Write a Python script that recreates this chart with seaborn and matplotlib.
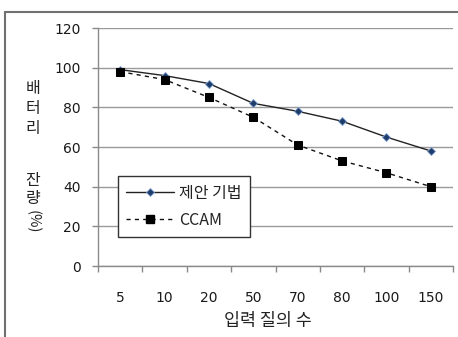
import matplotlib
matplotlib.use("Agg")
import matplotlib.pyplot as plt
import seaborn as sns
import pandas as pd
from matplotlib.lines import Line2D

categories = ["5", "10", "20", "50", "70", "80", "100", "150"]
proposed = [99, 96, 92, 82, 78, 73, 65, 58]
ccam = [98, 94, 85, 75, 61, 53, 47, 40]
series_names = ["제안 기법", "CCAM"]
y_ticks = [0, 20, 40, 60, 80, 100, 120]

sns.set_theme(style="white")
plt.rcParams['font.family'] = ['DejaVu Sans', 'Noto Sans CJK KR']
KR = ['Noto Sans CJK KR', 'DejaVu Sans']

W, H = 458, 337
fig = plt.figure(figsize=(W / 100, H / 100), dpi=100)
ax = fig.add_axes([98 / W, 1 - 266 / H, (453 - 98) / W, (266 - 28) / H])

df = pd.DataFrame({
    "x": list(range(len(categories))) * 2,
    "y": proposed + ccam,
    "series": [series_names[0]] * len(categories) + [series_names[1]] * len(categories),
})

sns.lineplot(data=df[df.series == series_names[0]], x="x", y="y", ax=ax,
             color="#222222", linewidth=1.0, marker="D", markersize=4,
             markerfacecolor="#1f3d6b", markeredgecolor="#7f9fcf", markeredgewidth=0.6,
             legend=False, zorder=4)
sns.lineplot(data=df[df.series == series_names[1]], x="x", y="y", ax=ax,
             color="#111111", linewidth=1.0, linestyle=(0, (3, 3)), marker="s", markersize=6,
             markerfacecolor="black", markeredgecolor="black",
             legend=False, zorder=5)

ax.set_xlim(-0.5, len(categories) - 0.5)
ax.set_ylim(0, 120)
ax.set_yticks(y_ticks)
ax.set_yticklabels([str(v) for v in y_ticks])
ax.yaxis.grid(True, color="#9a9a9a", linewidth=1.0)
ax.xaxis.grid(False)
ax.set_axisbelow(True)

ax.set_xticks([i - 0.5 for i in range(len(categories) + 1)])
ax.set_xticklabels([""] * (len(categories) + 1))
ax.set_xticks(list(range(len(categories))), minor=True)
ax.set_xticklabels(categories, minor=True)
ax.tick_params(axis="x", which="major", direction="out", length=4.5, width=1, color="#8a8a8a", bottom=True)
ax.tick_params(axis="x", which="minor", length=0, pad=18, labelsize=10, labelcolor="#1a1a1a")
ax.tick_params(axis="y", which="major", direction="out", length=4.5, width=1, color="#8a8a8a",
               left=True, pad=8, labelsize=10, labelcolor="#1a1a1a")

for s in ["top", "right"]:
    ax.spines[s].set_visible(False)
for s in ["left", "bottom"]:
    ax.spines[s].set_color("#8a8a8a")
    ax.spines[s].set_linewidth(1.0)
ax.set_xlabel("")
ax.set_ylabel("")

handles = [
    Line2D([], [], color="#222222", linewidth=1.0, marker="D", markersize=4,
           markerfacecolor="#1f3d6b", markeredgecolor="#7f9fcf", markeredgewidth=0.6),
    Line2D([], [], color="#111111", linewidth=1.0, linestyle=(0, (3, 3)), marker="s", markersize=6,
           markerfacecolor="black", markeredgecolor="black"),
]
leg = ax.legend(handles, series_names, loc="lower left", bbox_to_anchor=(0.055, 0.12),
                frameon=True, fancybox=False, edgecolor="#333333", framealpha=1,
                handlelength=3.0, handletextpad=0.3, borderpad=0.55, labelspacing=0.6,
                borderaxespad=0, prop={'family': KR, 'size': 11.5})
leg.get_frame().set_linewidth(1.0)
for t in leg.get_texts():
    t.set_color("#222222")

for ch, yy in [("배", 88), ("터", 108), ("리", 129), ("잔", 181), ("량", 199)]:
    fig.text(33 / W, 1 - yy / H, ch, ha="center", va="center", fontsize=11.5, color="#222222", family=KR)
fig.text(33 / W, 1 - 222 / H, "(%)", ha="center", va="center", fontsize=10.5, rotation=-90,
         color="#222222", family=KR)

fig.text(268 / W, 1 - 321 / H, "입력 질의 수", ha="center", va="center", fontsize=12.5,
         color="#222222", family=KR)

fig.add_artist(Line2D([5 / W, 1], [1 - 12 / H, 1 - 12 / H], transform=fig.transFigure,
                      color="#707070", linewidth=1.5))
fig.add_artist(Line2D([5 / W, 5 / W], [1 - 12 / H, 0], transform=fig.transFigure,
                      color="#707070", linewidth=1.5))

fig.savefig("out.png", dpi=100)
